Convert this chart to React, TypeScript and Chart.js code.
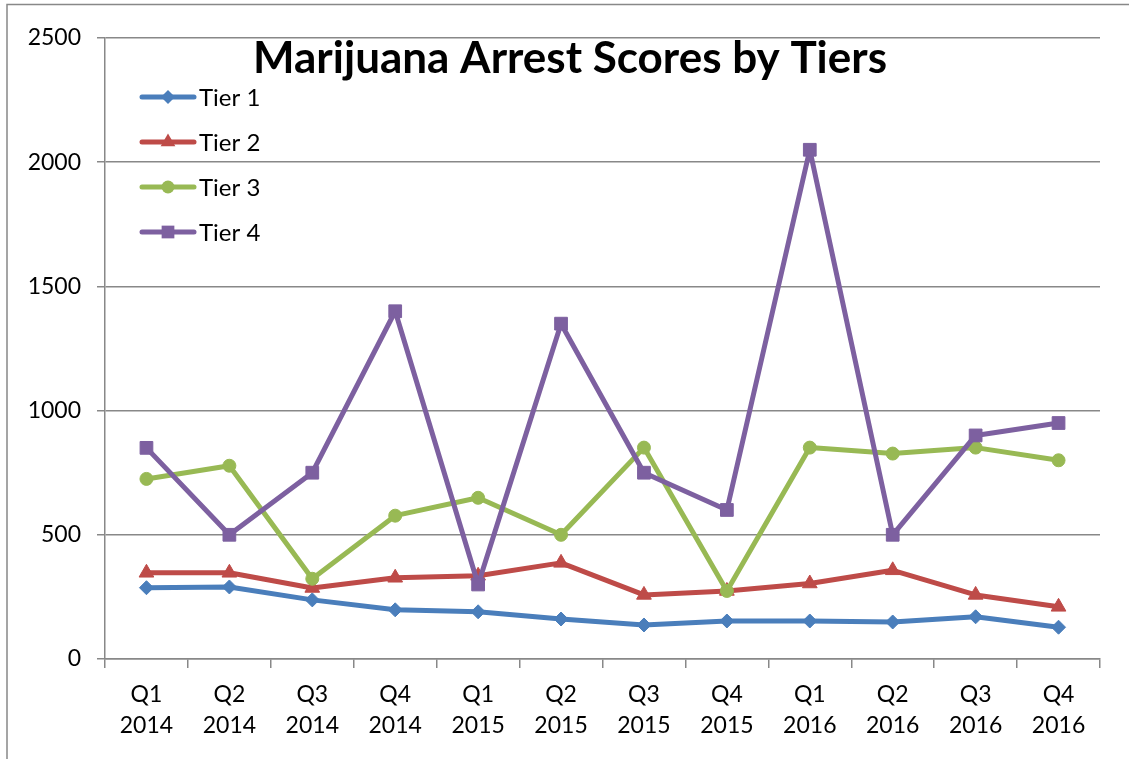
import React, { useEffect, useRef } from 'react';
import { Chart, registerables } from 'chart.js';

Chart.register(...registerables);

const quarters = ['Q1', 'Q2', 'Q3', 'Q4', 'Q1', 'Q2', 'Q3', 'Q4', 'Q1', 'Q2', 'Q3', 'Q4'];
const years = ['2014', '2014', '2014', '2014', '2015', '2015', '2015', '2015', '2016', '2016', '2016', '2016'];
const seriesNames = ['Tier 1', 'Tier 2', 'Tier 3', 'Tier 4'];
const tier1 = [287, 290, 238, 198, 190, 161, 137, 153, 153, 149, 170, 128];
const tier2 = [347, 347, 286, 327, 335, 387, 258, 274, 304, 357, 258, 210];
const tier3 = [725, 778, 323, 577, 649, 500, 851, 274, 851, 827, 851, 800];
const tier4 = [850, 500, 750, 1400, 300, 1350, 750, 600, 2050, 500, 900, 950];
const yTicks = [0, 500, 1000, 1500, 2000, 2500];
const titleText = 'Marijuana Arrest Scores by Tiers';

const colors = ['#4A7EBB', '#BE4B48', '#98B954', '#7D60A0'];
const styles = ['rectRot', 'triangle', 'circle', 'rect'];
const radii = [7, 8.5, 6.5, 9];
const FONT = 'Lato, "Open Sans", sans-serif';
const GRID = '#888888';

function drawMarker(ctx: CanvasRenderingContext2D, style: string, x: number, y: number, r: number, color: string) {
  ctx.save();
  ctx.fillStyle = color;
  ctx.beginPath();
  if (style === 'circle') {
    ctx.arc(x, y, r, 0, Math.PI * 2);
  } else if (style === 'rect') {
    const s = r * Math.SQRT1_2;
    ctx.rect(x - s, y - s, 2 * s, 2 * s);
  } else if (style === 'rectRot') {
    ctx.moveTo(x, y - r);
    ctx.lineTo(x + r, y);
    ctx.lineTo(x, y + r);
    ctx.lineTo(x - r, y);
    ctx.closePath();
  } else if (style === 'triangle') {
    const h = r * 1.5;
    const w = r * Math.sqrt(3);
    ctx.moveTo(x, y - h * 2 / 3);
    ctx.lineTo(x + w / 2, y + h / 3);
    ctx.lineTo(x - w / 2, y + h / 3);
    ctx.closePath();
  }
  ctx.fill();
  ctx.restore();
}

const decorPlugin = {
  id: 'decor',
  afterDraw(chart: any) {
    const ctx = chart.ctx as CanvasRenderingContext2D;
    ctx.save();
    // frame
    ctx.strokeStyle = GRID;
    ctx.lineWidth = 1.5;
    ctx.beginPath();
    ctx.moveTo(7, 759);
    ctx.lineTo(7, 4.5);
    ctx.lineTo(1129, 4.5);
    ctx.stroke();
    // title
    ctx.fillStyle = '#000';
    ctx.font = `bold 44px ${FONT}`;
    ctx.textAlign = 'center';
    ctx.textBaseline = 'alphabetic';
    ctx.fillText(titleText, 570, 73);
    // legend
    ctx.font = `24px ${FONT}`;
    ctx.textAlign = 'left';
    ctx.textBaseline = 'middle';
    chart.data.datasets.forEach((ds: any, i: number) => {
      const y = 97 + i * 45;
      ctx.strokeStyle = ds.borderColor;
      ctx.lineWidth = 5;
      ctx.lineCap = 'round';
      ctx.beginPath();
      ctx.moveTo(142, y);
      ctx.lineTo(194, y);
      ctx.stroke();
      drawMarker(ctx, ds.pointStyle, 168, y, ds.pointRadius, ds.borderColor);
      ctx.fillStyle = '#000';
      ctx.fillText(ds.label, 199, y + 1);
    });
    ctx.restore();
  },
};

export default function App() {
  const ref = useRef<HTMLCanvasElement | null>(null);
  useEffect(() => {
    if (!ref.current) return;
    const seriesValues = [tier1, tier2, tier3, tier4];
    const chart = new Chart(ref.current, {
      type: 'line',
      data: {
        labels: quarters.map((q, i) => [q, years[i]]),
        datasets: seriesNames.map((name, i) => ({
          label: name,
          data: seriesValues[i],
          borderColor: colors[i],
          backgroundColor: colors[i],
          pointBackgroundColor: colors[i],
          pointBorderColor: colors[i],
          pointBorderWidth: 1,
          pointStyle: styles[i],
          pointRadius: radii[i],
          borderWidth: 5,
          borderJoinStyle: 'round',
          tension: 0,
          order: 3 - i,
          clip: false,
        })) as any,
      },
      options: {
        animation: false,
        responsive: false,
        maintainAspectRatio: false,
        layout: { padding: { top: 38, right: 29, left: 0, bottom: 0 } },
        plugins: { legend: { display: false }, title: { display: false }, tooltip: { enabled: false } },
        scales: {
          x: {
            type: 'category',
            offset: true,
            grid: { offset: true, drawOnChartArea: false, drawTicks: true, tickLength: 9, color: GRID, lineWidth: 1.5 },
            border: { color: GRID, width: 1.5 },
            ticks: { color: '#000', font: { family: FONT, size: 23, lineHeight: 1.36 }, padding: 11, maxRotation: 0, autoSkip: false },
            afterFit: (s: any) => { s.height = 100; },
          },
          y: {
            min: yTicks[0],
            max: yTicks[yTicks.length - 1],
            ticks: { stepSize: 500, padding: 16, color: '#000', font: { family: FONT, size: 23 }, callback: (v: any) => String(v) },
            grid: { color: GRID, lineWidth: 1.5, tickLength: 8 },
            border: { color: GRID, width: 1.5 },
            afterFit: (s: any) => { s.width = 105; },
          },
        },
      } as any,
      plugins: [decorPlugin],
    });
    return () => chart.destroy();
  }, []);
  return (
    <div style={{ position: 'fixed', left: 0, top: 0, width: 1129, height: 759, background: '#fff' }}>
      <canvas ref={ref} width={1129} height={759} />
    </div>
  );
}
